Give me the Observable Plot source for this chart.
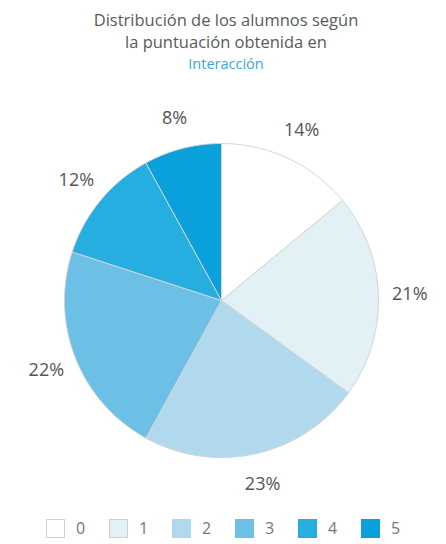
<!DOCTYPE html>
<html>
<head>
<meta charset="utf-8">
<script src="https://cdn.jsdelivr.net/npm/d3@7"></script>
<script src="https://cdn.jsdelivr.net/npm/@observablehq/plot@0.6"></script>
<style>
  html, body { margin: 0; padding: 0; background: #fff; }
  body { width: 446px; height: 544px; font-family: "Open Sans", "Lato", sans-serif; color: #555; position: relative; overflow: hidden; }
  #title { height: 78px; box-sizing: border-box; padding-top: 9px; padding-left: 6px; text-align: center; font-size: 16.5px; line-height: 21.5px; color: #5a5a5a; }
  #title .hl { color: #3aa8dc; font-size: 14.5px; }
  #chart svg { display: block; }
  #legend { position: absolute; left: 0; top: 517px; width: 446px; height: 22px; }
  .item { position: absolute; top: 0; display: flex; align-items: center; font-size: 16px; color: #777; }
  .sw { width: 19px; height: 19px; box-sizing: border-box; border: 1px solid #d0d0d0; margin-right: 11px; }
</style>
</head>
<body>
<div id="title">Distribución de los alumnos según<br>la puntuación obtenida en<br><span class="hl">Interacción</span></div>
<div id="chart"></div>
<div id="legend"></div>
<script>
const categories = ["0", "1", "2", "3", "4", "5"];
const percents = [14, 21, 23, 22, 12, 8];
const colors = ["#ffffff", "#e2f1f6", "#b0d9ee", "#6cc0e6", "#26aee0", "#0aa0db"];

// Build slice polygons from the data (angles clockwise from top)
const total = d3.sum(percents);
let cum = 0;
const slices = categories.map((c, i) => {
  const a0 = cum / total * 2 * Math.PI;
  cum += percents[i];
  const a1 = cum / total * 2 * Math.PI;
  return {cat: c, value: percents[i], a0, a1, mid: (a0 + a1) / 2};
});
const polyPts = [];
for (const s of slices) {
  polyPts.push({cat: s.cat, x: 0, y: 0});
  const n = Math.max(2, Math.ceil((s.a1 - s.a0) / (Math.PI / 180)));
  for (let k = 0; k <= n; k++) {
    const a = s.a0 + (s.a1 - s.a0) * k / n;
    polyPts.push({cat: s.cat, x: Math.sin(a), y: Math.cos(a)});
  }
  polyPts.push({cat: s.cat, x: 0, y: 0});
}
const labelR = 1.2;
const labels = slices.map(s => ({label: s.value + "%", x: labelR * Math.sin(s.mid), y: labelR * Math.cos(s.mid)}));

const plot = Plot.plot({
  width: 446,
  height: 422,
  marginLeft: 64,
  marginRight: 68,
  marginTop: 65,
  marginBottom: 43,
  x: {domain: [-1, 1], axis: null},
  y: {domain: [-1, 1], axis: null},
  color: {type: "ordinal", domain: categories, range: colors},
  style: {fontFamily: "'Open Sans', Lato, sans-serif", background: "transparent"},
  marks: [
    Plot.line(polyPts, {x: "x", y: "y", z: "cat", fill: "cat", stroke: "#d4d4d4", strokeWidth: 1, curve: "linear-closed"}),
    Plot.text(labels, {x: "x", y: "y", text: "label", fontSize: 18, fill: "#555"})
  ]
});
document.getElementById("chart").appendChild(plot);

const legend = document.getElementById("legend");
categories.forEach((c, i) => {
  const it = document.createElement("div");
  it.className = "item";
  it.style.left = (46 + i * 63) + "px";
  const sw = document.createElement("div");
  sw.className = "sw";
  sw.style.background = colors[i];
  if (i >= 2) sw.style.border = "none";
  const t = document.createElement("span");
  t.textContent = c;
  it.appendChild(sw);
  it.appendChild(t);
  legend.appendChild(it);
});
</script>
</body>
</html>
